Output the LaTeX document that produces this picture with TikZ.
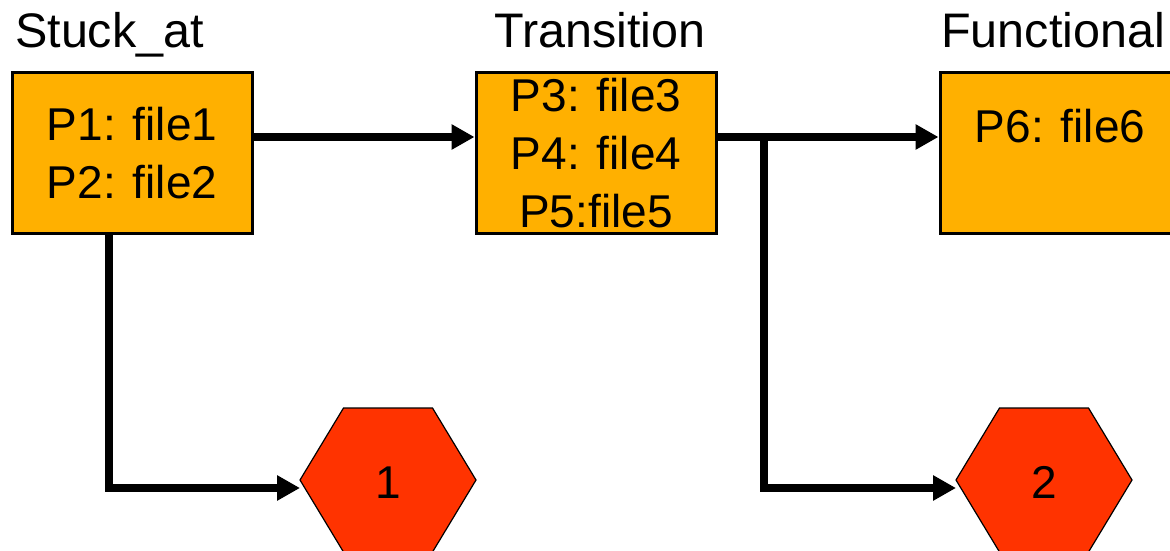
\documentclass[tikz,border=0pt]{standalone}
\usepackage{fontspec}
\setmainfont{Liberation Sans}
\usetikzlibrary{arrows.meta}
\definecolor{boxorange}{RGB}{255,176,0}
\definecolor{hexred}{RGB}{255,51,0}
\newcommand\diagfont{\fontsize{46}{58}\selectfont}
\newcommand\titlefont{\fontsize{48.5}{58}\selectfont}
\begin{document}
\begin{tikzpicture}[x=1pt,y=-1pt,
  box/.style={draw=black,line width=3pt,fill=boxorange,minimum width=240pt,minimum height=160pt,inner sep=0pt,align=center,font=\diagfont},
  title/.style={anchor=base west,inner sep=0pt,font=\titlefont},
  num/.style={anchor=base,inner sep=0pt,font=\diagfont},
  hexa/.style={draw=black,line width=1.2pt,fill=hexred,line join=miter},
  arr/.style={line width=8pt,line join=miter,-{Triangle[length=23pt,width=24pt]}}
]
\useasboundingbox (0,0) rectangle (1170,551);
\clip (0,0) rectangle (1170,551);

% titles
\node[title] (t1) at (15,48) {Stuck\_at};
\node[title] (t2) at (494,48) {Transition};
\node[title] (t3) at (941,48) {Functional};

% boxes
\node[box] (b1) at (132,153) {P1: file1\\P2: file2};
\node[box] (b2) at (596,153) {P3: file3\\P4: file4\\P5:file5};
\node[box] (b3) at (1060,153) {};
\node[num] (b3t) at (1060,142) {P6: file6};

% hexagons
\path[hexa] (300,480) -- (343.5,408) -- (432.5,408) -- (476,480) -- (432.5,552) -- (343.5,552) -- cycle;
\path[hexa] (956,480) -- (999.5,408) -- (1088.5,408) -- (1132,480) -- (1088.5,552) -- (999.5,552) -- cycle;
\node[num] (h1) at (388,498) {1};
\node[num] (h2) at (1044,498) {2};
\coordinate (h1w) at (300,488);
\coordinate (h2w) at (956,488);
\coordinate (br) at (764,137);

% connectors
\draw[arr] ([yshift=16pt]b1.east) -- ([yshift=16pt]b2.west);
\draw[arr] ([yshift=16pt]b2.east) -- ([yshift=16pt]b3.west);
\draw[arr] ([xshift=-23.5pt]b1.south) |- (h1w);
\draw[arr] (br) |- (h2w);
\end{tikzpicture}
\end{document}
